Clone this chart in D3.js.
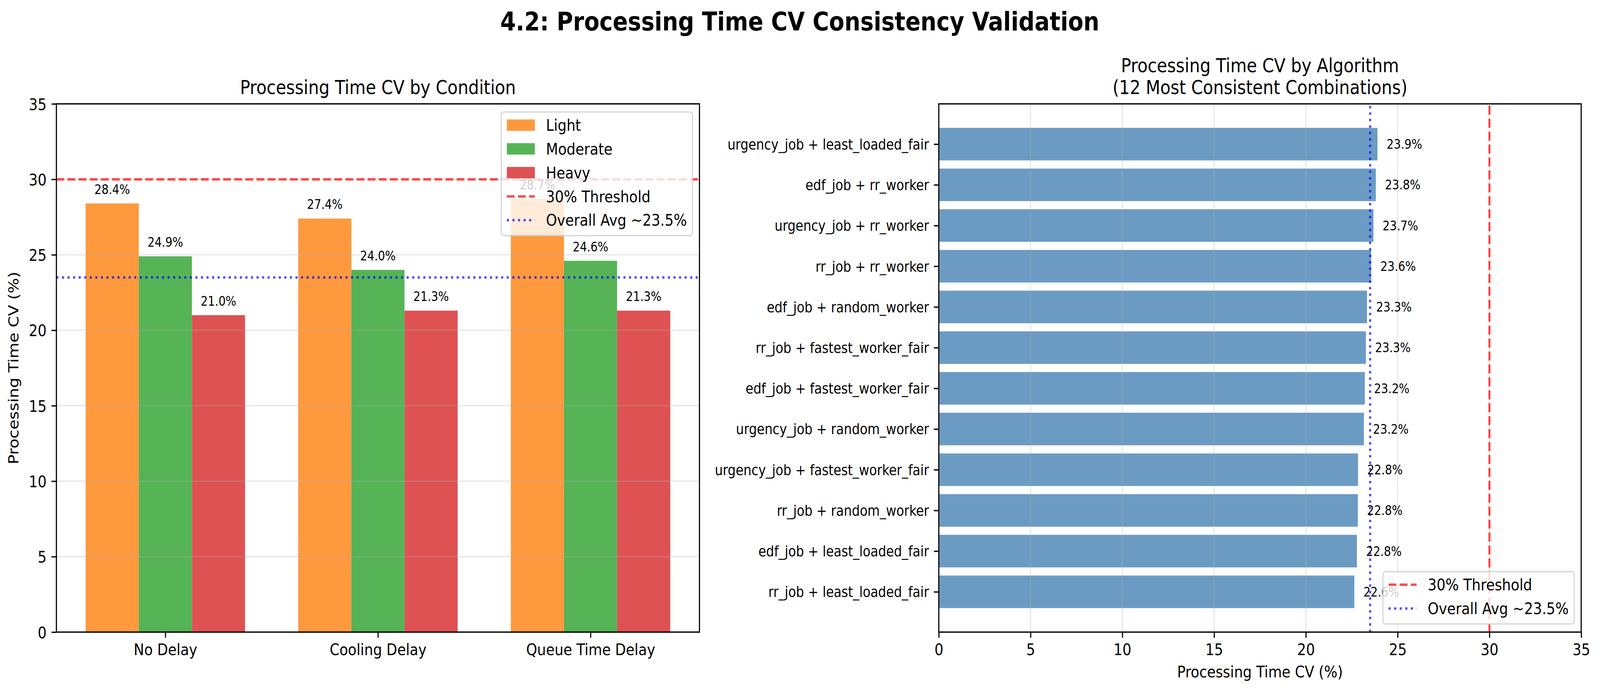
<!DOCTYPE html>
<html><head><meta charset="utf-8">
<script src="https://cdn.jsdelivr.net/npm/d3@7"></script>
<style>html,body{margin:0;padding:0;background:#fff;overflow:hidden;width:100%;height:100%} svg{display:block;width:100vw;height:100vh} text{font-family:"DejaVu Sans",sans-serif}</style>
</head><body><svg id="c" viewBox="0 0 4767 1775" preserveAspectRatio="none"></svg>
<script>
// ---------- data ----------
const conditions = ["No Delay", "Cooling Delay", "Queue Time Delay"];
const loadLevels = ["Light", "Moderate", "Heavy"];
const lightCV = [28.4, 27.4, 28.7];
const moderateCV = [24.9, 24.0, 24.6];
const heavyCV = [21.0, 21.3, 21.3];
const algorithms = [
  "urgency_job + least_loaded_fair", "edf_job + rr_worker", "urgency_job + rr_worker",
  "rr_job + rr_worker", "edf_job + random_worker", "rr_job + fastest_worker_fair",
  "edf_job + fastest_worker_fair", "urgency_job + random_worker", "urgency_job + fastest_worker_fair",
  "rr_job + random_worker", "edf_job + least_loaded_fair", "rr_job + least_loaded_fair"
];
const algorithmCV = [23.90, 23.81, 23.68, 23.56, 23.33, 23.27, 23.21, 23.16, 22.84, 22.83, 22.78, 22.64];
const valueTicks = [0, 5, 10, 15, 20, 25, 30, 35];
const thresholdValue = 30;
const overallAvg = 23.5;
const thresholdLabel = "30% Threshold";
const avgLabel = "Overall Avg ~23.5%";

// ---------- style ----------
const PT = 300 / 72;
const LW = 0.8 * PT, TICK = 3.5 * PT;
const loadColors = ["#ff7f0e", "#2ca02c", "#d62728"];
const svg = d3.select("#c");
svg.append("rect").attr("width", 4767).attr("height", 1775).attr("fill", "#fff");

svg.append("text").attr("x", 2383).attr("y", 78).attr("text-anchor", "middle")
  .attr("font-size", 16 * PT).attr("font-weight", "bold").text("4.2: Processing Time CV Consistency Validation");

function styleAxis(g, fs) {
  g.select(".domain").remove();
  g.selectAll(".tick line").attr("stroke", "#000").attr("stroke-width", LW);
  g.selectAll(".tick text").attr("fill", "#000").attr("font-size", fs).attr("font-family", "DejaVu Sans");
  g.attr("font-family", null).attr("font-size", null);
}

function legend(g, items, pos, ax) {
  const fs = 10 * PT, bp = 0.4 * fs, ls = 0.5 * fs, hl = 2 * fs, htp = 0.8 * fs, bap = 0.5 * fs, rowH = 40;
  const lg = g.append("g");
  const bg = lg.append("rect");
  const texts = items.map(it => lg.append("text").attr("font-size", fs).text(it.label));
  const maxW = d3.max(texts, t => t.node().getComputedTextLength());
  const n = items.length;
  const w = 2 * bp + hl + htp + maxW, h = 2 * bp + n * rowH + (n - 1) * ls;
  const x0 = ax.right - bap - w;
  const y0 = pos === "upper right" ? ax.top + bap : ax.bottom - bap - h;
  bg.attr("x", x0).attr("y", y0).attr("width", w).attr("height", h).attr("rx", 8)
    .attr("fill", "#fff").attr("fill-opacity", 0.8).attr("stroke", "#cccccc").attr("stroke-opacity", 0.8).attr("stroke-width", LW);
  items.forEach((it, i) => {
    const top = y0 + bp + i * (rowH + ls);
    const cy = top + 17;
    if (it.type === "patch") {
      lg.append("rect").attr("x", x0 + bp).attr("y", cy - 0.35 * fs).attr("width", hl).attr("height", 0.7 * fs)
        .attr("fill", it.color).attr("fill-opacity", 0.8);
    } else {
      lg.append("line").attr("x1", x0 + bp).attr("x2", x0 + bp + hl).attr("y1", cy).attr("y2", cy)
        .attr("stroke", it.color).attr("stroke-opacity", 0.7).attr("stroke-width", 1.5 * PT)
        .attr("stroke-dasharray", it.dash);
    }
    texts[i].attr("x", x0 + bp + hl + htp).attr("y", top + 31.6).raise();
  });
}
const DASHED = `${3.7 * 1.5 * PT},${1.6 * 1.5 * PT}`;
const DOTTED = `${1 * 1.5 * PT},${1.65 * 1.5 * PT}`;

// ---------- left chart ----------
{
  const ax = { left: 168, right: 2084, top: 266, bottom: 1619 };
  const g = svg.append("g");
  const x = d3.scaleLinear().domain([-0.5125, 2.5125]).range([ax.left, ax.right]);
  const y = d3.scaleLinear().domain([0, 35]).range([ax.bottom, ax.top]);
  const bw = 0.25;
  const series = [lightCV, moderateCV, heavyCV];
  g.append("text").attr("x", (ax.left + ax.right) / 2).attr("y", 241).attr("text-anchor", "middle")
    .attr("font-size", 12 * PT).text("Processing Time CV by Condition");
  series.forEach((vals, s) => {
    g.selectAll(null).data(vals).enter().append("rect")
      .attr("x", (d, i) => x(i + (s - 1) * bw - bw / 2))
      .attr("width", (d, i) => x(i + (s - 1) * bw + bw / 2) - x(i + (s - 1) * bw - bw / 2))
      .attr("y", d => y(d)).attr("height", d => y(0) - y(d))
      .attr("fill", loadColors[s]).attr("fill-opacity", 0.8);
  });
  // grid
  g.selectAll(null).data(valueTicks).enter().append("line")
    .attr("x1", ax.left).attr("x2", ax.right).attr("y1", d => y(d)).attr("y2", d => y(d))
    .attr("stroke", "#b0b0b0").attr("stroke-opacity", 0.3).attr("stroke-width", LW);
  // axes
  const xa = g.append("g").attr("transform", `translate(0,${ax.bottom})`)
    .call(d3.axisBottom(x).tickValues([0, 1, 2]).tickFormat(i => conditions[i]).tickSize(TICK).tickPadding(TICK));
  styleAxis(xa, 10 * PT);
  const ya = g.append("g").attr("transform", `translate(${ax.left},0)`)
    .call(d3.axisLeft(y).tickValues(valueTicks).tickSize(TICK).tickPadding(TICK));
  styleAxis(ya, 10 * PT);
  ya.selectAll(".tick text").attr("dy", "0.36em");
  g.append("text").attr("transform", `translate(55,${(ax.top + ax.bottom) / 2}) rotate(-90)`)
    .attr("text-anchor", "middle").attr("font-size", 10 * PT).text("Processing Time CV (%)");
  // reference lines
  g.append("line").attr("x1", ax.left).attr("x2", ax.right).attr("y1", y(thresholdValue)).attr("y2", y(thresholdValue))
    .attr("stroke", "red").attr("stroke-opacity", 0.7).attr("stroke-width", 1.5 * PT).attr("stroke-dasharray", DASHED);
  g.append("line").attr("x1", ax.left).attr("x2", ax.right).attr("y1", y(overallAvg)).attr("y2", y(overallAvg))
    .attr("stroke", "blue").attr("stroke-opacity", 0.7).attr("stroke-width", 1.5 * PT).attr("stroke-dasharray", DOTTED);
  // spines
  g.append("rect").attr("x", ax.left).attr("y", ax.top).attr("width", ax.right - ax.left).attr("height", ax.bottom - ax.top)
    .attr("fill", "none").attr("stroke", "#000").attr("stroke-width", LW);
  // labels
  series.forEach((vals, s) => {
    g.selectAll(null).data(vals).enter().append("text")
      .attr("x", (d, i) => x(i + (s - 1) * bw)).attr("y", d => y(d + 0.5) - 5)
      .attr("text-anchor", "middle").attr("font-size", 8 * PT).text(d => d.toFixed(1) + "%");
  });
  legend(g, [
    { type: "patch", color: loadColors[0], label: loadLevels[0] },
    { type: "patch", color: loadColors[1], label: loadLevels[1] },
    { type: "patch", color: loadColors[2], label: loadLevels[2] },
    { type: "line", color: "red", dash: DASHED, label: thresholdLabel },
    { type: "line", color: "blue", dash: DOTTED, label: avgLabel }
  ], "upper right", ax);
}

// ---------- right chart ----------
{
  const ax = { left: 2797, right: 4711, top: 266, bottom: 1619 };
  const g = svg.append("g");
  const x = d3.scaleLinear().domain([0, 35]).range([ax.left, ax.right]);
  const y = d3.scaleLinear().domain([-0.99, 11.99]).range([ax.top, ax.bottom]);
  const bh = 0.8;
  const cx = (ax.left + ax.right) / 2;
  g.append("text").attr("x", cx).attr("y", 185).attr("text-anchor", "middle").attr("font-size", 12 * PT).text("Processing Time CV by Algorithm");
  g.append("text").attr("x", cx).attr("y", 241).attr("text-anchor", "middle").attr("font-size", 12 * PT).text("(12 Most Consistent Combinations)");
  g.selectAll(null).data(algorithmCV).enter().append("rect")
    .attr("x", x(0)).attr("width", d => x(d) - x(0))
    .attr("y", (d, i) => y(i - bh / 2)).attr("height", (d, i) => y(i + bh / 2) - y(i - bh / 2))
    .attr("fill", "steelblue").attr("fill-opacity", 0.8);
  g.selectAll(null).data(valueTicks).enter().append("line")
    .attr("x1", d => x(d)).attr("x2", d => x(d)).attr("y1", ax.top).attr("y2", ax.bottom)
    .attr("stroke", "#b0b0b0").attr("stroke-opacity", 0.3).attr("stroke-width", LW);
  const xa = g.append("g").attr("transform", `translate(0,${ax.bottom})`)
    .call(d3.axisBottom(x).tickValues(valueTicks).tickSize(TICK).tickPadding(TICK));
  styleAxis(xa, 10 * PT);
  const ya = g.append("g").attr("transform", `translate(${ax.left},0)`)
    .call(d3.axisLeft(y).tickValues(d3.range(algorithms.length)).tickFormat(i => algorithms[i]).tickSize(TICK).tickPadding(TICK));
  styleAxis(ya, 9 * PT);
  ya.selectAll(".tick text").attr("dy", "0.35em");
  g.append("text").attr("x", cx).attr("y", 1735).attr("text-anchor", "middle").attr("font-size", 10 * PT).text("Processing Time CV (%)");
  g.append("line").attr("x1", x(thresholdValue)).attr("x2", x(thresholdValue)).attr("y1", ax.bottom).attr("y2", ax.top)
    .attr("stroke", "red").attr("stroke-opacity", 0.7).attr("stroke-width", 1.5 * PT).attr("stroke-dasharray", DASHED);
  g.append("line").attr("x1", x(overallAvg)).attr("x2", x(overallAvg)).attr("y1", ax.bottom).attr("y2", ax.top)
    .attr("stroke", "blue").attr("stroke-opacity", 0.7).attr("stroke-width", 1.5 * PT).attr("stroke-dasharray", DOTTED);
  g.append("rect").attr("x", ax.left).attr("y", ax.top).attr("width", ax.right - ax.left).attr("height", ax.bottom - ax.top)
    .attr("fill", "none").attr("stroke", "#000").attr("stroke-width", LW);
  g.selectAll(null).data(algorithmCV).enter().append("text")
    .attr("x", d => x(d + 0.5)).attr("y", (d, i) => y(i)).attr("dy", "0.36em")
    .attr("font-size", 8 * PT).text(d => d.toFixed(1) + "%");
  legend(g, [
    { type: "line", color: "red", dash: DASHED, label: thresholdLabel },
    { type: "line", color: "blue", dash: DOTTED, label: avgLabel }
  ], "lower right", ax);
}
</script></body></html>
